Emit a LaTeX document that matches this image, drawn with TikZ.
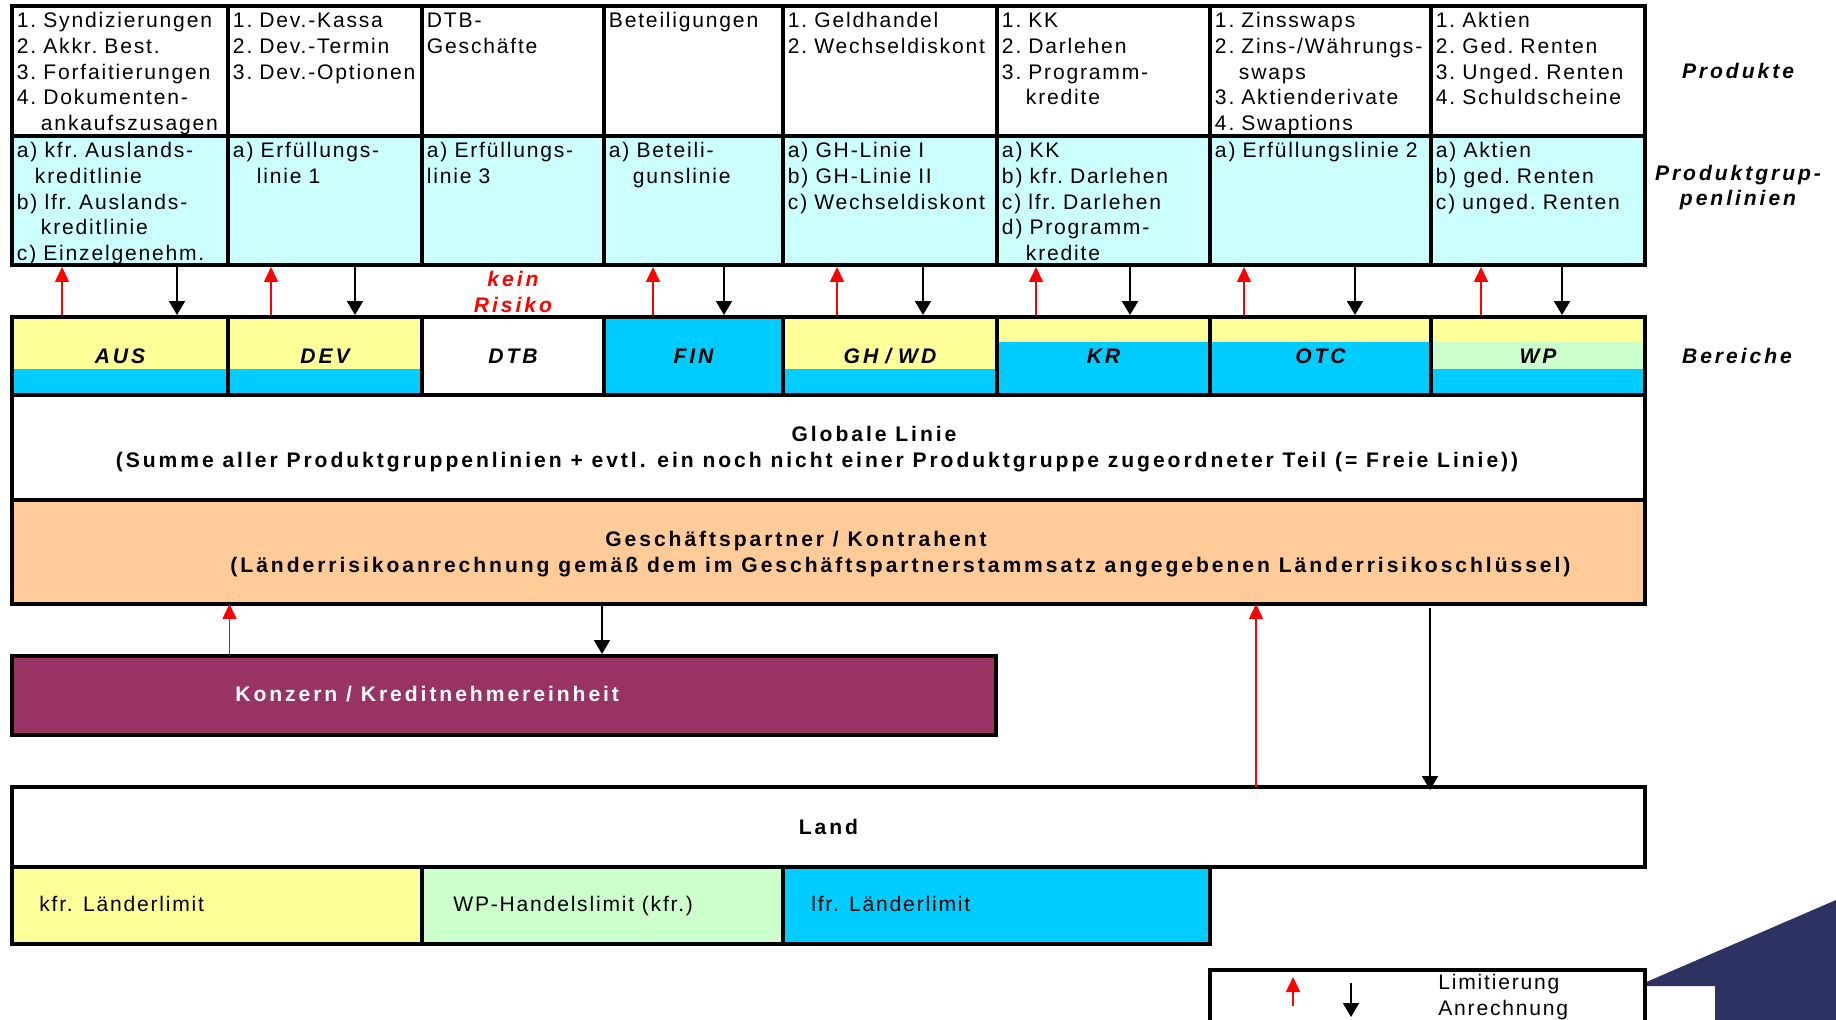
\documentclass[tikz,border=0pt]{standalone}
\usepackage{fontspec}
\setmainfont{Liberation Sans}[LetterSpace=8.5]
\newfontfamily\fettschrift{Liberation Sans}[LetterSpace=14]
\usepackage{xcolor}
\usetikzlibrary{matrix,arrows.meta}

\newlength\px
\setlength\px{0.02cm}
\newcommand\ein{\hspace*{24\px}}

\definecolor{hellblau}{HTML}{CCFFFF}
\definecolor{gelb}{HTML}{FFFF99}
\definecolor{blau}{HTML}{00CCFF}
\definecolor{gruen}{HTML}{CCFFCC}
\definecolor{apricot}{HTML}{FFCC99}
\definecolor{weinrot}{HTML}{993366}
\definecolor{marine}{HTML}{2E3262}

\begin{document}
\begin{tikzpicture}[x=0.02cm, y=-0.02cm,
  txt/.style={font=\fontsize{12}{14.7}\selectfont},
  txtfett/.style={font=\fettschrift\bfseries\fontsize{12}{14.7}\selectfont},
  txtkursiv/.style={font=\fettschrift\bfseries\itshape\fontsize{12}{14.7}\selectfont},
  kasten/.style={draw, line width=4\px, inner sep=0pt, outer sep=0pt, anchor=north west},
  spalten/.style={column 1/.style={nodes={text width=206\px}},
    column 2/.style={nodes={text width=184\px}},
    column 3/.style={nodes={text width=172\px}},
    column 4/.style={nodes={text width=169\px}},
    column 5/.style={nodes={text width=204\px}},
    column 6/.style={nodes={text width=203\px}},
    column 7/.style={nodes={text width=211\px}},
    column 8/.style={nodes={text width=204\px}}},
  gelbblau/.style={fill=gelb, path picture={\fill[blau] (path picture bounding box.south west) rectangle ([yshift=26\px]path picture bounding box.south east);}},
  gelboben/.style={fill=blau, path picture={\fill[gelb] (path picture bounding box.north west) rectangle ([yshift=-25\px]path picture bounding box.north east);}},
  dreifarbig/.style={fill=blau, path picture={\fill[gelb] (path picture bounding box.north west) rectangle ([yshift=-25\px]path picture bounding box.north east);
    \fill[gruen] ([yshift=-25\px]path picture bounding box.north west) rectangle ([yshift=26\px]path picture bounding box.south east);}},
  limit/.style={red, line width=1.6\px, -{Triangle[width=0.28cm,length=0.3cm]}},
  anrechnung/.style={black, line width=2\px, -{Triangle[width=0.32cm,length=0.28cm]}}]
\useasboundingbox (0,0) rectangle (1836,1020);
\clip (0,0) rectangle (1836,1020);

% Produkte und Produktgruppenlinien
\matrix[matrix of nodes, anchor=north west, inner sep=0pt, outer sep=0pt, spalten,
  column sep=-4\px, row sep=-4\px,
  nodes={draw, line width=4\px, anchor=center, align=left, txt, inner xsep=5\px, inner ysep=0pt, outer sep=2\px, text height=21.5\px,
    execute at begin node={\hyphenpenalty=10000 \exhyphenpenalty=10000}},
  row 1/.style={nodes={text depth=108.5\px}},
  row 2/.style={nodes={text depth=107.5\px, fill=hellblau}}] (tab) at (10,4) {
 1.~Syndizierungen\newline 2.~Akkr.~Best.\newline 3.~Forfaitierungen\newline 4.~Dokumenten-\newline\ein ankaufszusagen
 & 1.~Dev.-Kassa\newline 2.~Dev.-Termin\newline 3.~Dev.-Optionen
 & DTB-\newline Geschäfte
 & Beteiligungen
 & 1.~Geldhandel\newline 2.~Wechseldiskont
 & 1.~KK\newline 2.~Darlehen\newline 3.~Programm-\newline\ein kredite
 & 1.~Zinsswaps\newline 2.~Zins-/Währungs-\newline\ein swaps\newline 3.~Aktienderivate\newline 4.~Swaptions
 & 1.~Aktien\newline 2.~Ged.~Renten\newline 3.~Unged.~Renten\newline 4.~Schuldscheine \\
 a)~kfr.~Auslands-\newline\hspace*{18\px}kreditlinie\newline b)~lfr.~Auslands-\newline\ein kreditlinie\newline c)~Einzelgenehm.
 & a)~Erfüllungs-\newline\ein linie~1
 & a)~Erfüllungs-\newline linie~3
 & a)~Beteili-\newline\ein gunslinie
 & a)~GH-Linie~I\newline b)~GH-Linie~II\newline c)~Wechseldiskont
 & a)~KK\newline b)~kfr.~Darlehen\newline c)~lfr.~Darlehen\newline d)~Programm-\newline\ein kredite
 & a)~Erfüllungslinie~2
 & a)~Aktien\newline b)~ged.~Renten\newline c)~unged.~Renten \\
};

% Bereiche
\matrix[matrix of nodes, anchor=north west, inner sep=0pt, outer sep=0pt, spalten,
  column sep=-4\px,
  nodes={draw, line width=4\px, anchor=center, align=center, txtkursiv, inner xsep=5\px, inner ysep=0pt, outer sep=2\px,
    minimum height=78\px, text height=8.5pt, text depth=0pt}] (ber) at (10,315) {
 |[gelbblau]| AUS & |[gelbblau]| DEV & DTB & |[fill=blau]| FIN & |[gelbblau]| GH / WD
 & |[gelboben]| KR & |[gelboben]| OTC & |[dreifarbig]| WP \\
};

\foreach \spalte/\rx/\bx in {1/52/167, 2/45/129, 4/51/122, 5/56/142, 6/41/135, 7/36/147, 8/52/133}{
  \draw[limit] ([xshift=\rx\px]ber-1-\spalte.north west) -- ([xshift=\rx\px]tab-2-\spalte.south west);
  \draw[anrechnung] ([xshift=\bx\px]tab-2-\spalte.south west) -- ([xshift=\bx\px]ber-1-\spalte.north west);
}
\node[txtkursiv, text=red, align=center] (keinrisiko) at ([yshift=-25\px]tab-2-3.south) {kein\\Risiko};

\node[txtkursiv] (produkte) at ([xshift=91\px]tab-1-8.east) {Produkte};
\node[txtkursiv, align=center] (pglinien) at ([xshift=91\px, yshift=13\px]tab-2-8.east) {Produktgrup-\\penlinien};
\node[txtkursiv] (bereiche) at ([xshift=90\px]ber-1-8.east) {Bereiche};

% Globale Linie, Geschaeftspartner
\node[kasten, minimum width=1633\px, minimum height=105\px] (global) at (12,395) {};
\node[txtfett, align=center] (globaltext) at ([xshift=-11.5\px, yshift=-2\px]global.center)
  {\mbox{\hspace{114\px}Globale Linie}\\(Summe aller Produktgruppenlinien + evtl. ein noch nicht einer Produktgruppe zugeordneter Teil (= Freie Linie))};
\node[kasten, fill=apricot, minimum width=1633\px, minimum height=104\px] (partner) at (global.south west) {};
\node[txtfett, align=center] (partnertext) at ([xshift=72\px, yshift=-2\px]partner.center)
  {\mbox{Geschäftspartner / Kontrahent\hspace{209\px}}\\(Länderrisikoanrechnung gemäß dem im Geschäftspartnerstammsatz angegebenen Länderrisikoschlüssel)};

% Konzern
\node[kasten, fill=weinrot, minimum width=984\px, minimum height=79\px] (konzern) at (12,656) {};
\node[txtfett, text=white, anchor=base west, inner sep=0pt] (konzerntext) at ([xshift=223\px, yshift=-6\px]konzern.west) {Konzern / Kreditnehmereinheit};
\draw[limit] ([xshift=217.5\px]konzern.north west) -- ([xshift=217.5\px]konzern.north west |- partner.south);
\draw[anrechnung, shorten >=2\px] ([xshift=590\px]konzern.north west |- partner.south) -- ([xshift=590\px]konzern.north west);

% Land
\node[kasten, txtfett, minimum width=1633\px, minimum height=80\px] (land) at (12,787) {Land};
\node[kasten, fill=gelb, minimum width=410\px, minimum height=77\px] (kfr) at (land.south west) {};
\node[kasten, fill=gruen, minimum width=361\px, minimum height=77\px] (wphandel) at (kfr.north east) {};
\node[kasten, fill=blau, minimum width=427\px, minimum height=77\px] (lfr) at (wphandel.north east) {};
\node[txt, anchor=base west, inner sep=0pt] (kfrtext) at ([xshift=27\px, yshift=-6\px]kfr.west) {kfr. Länderlimit};
\node[txt, anchor=base west, inner sep=0pt] (wptext) at ([xshift=31\px, yshift=-6\px]wphandel.west) {WP-Handelslimit (kfr.)};
\node[txt, anchor=base west, inner sep=0pt] (lfrtext) at ([xshift=28\px, yshift=-6\px]lfr.west) {lfr. Länderlimit};
\draw[limit] ([xshift=1244\px]land.north west) -- ([xshift=1244\px]land.north west |- partner.south);
\draw[anrechnung, shorten <=4\px] ([xshift=1418\px]land.north west |- partner.south) -- ([xshift=1418\px, yshift=-3\px]land.north west);

% Legende
\fill[marine] (1644,983) -- (1836,900) -- (1836,1020) -- (1715,1020) -- (1715,986) -- (1644,986) -- cycle;
\node[kasten, fill=white, minimum width=435\px, minimum height=80\px] (legende) at (1210,970) {};
\coordinate (lim-a) at ([xshift=83\px, yshift=-36\px]legende.north west);
\coordinate (lim-b) at ([xshift=83\px, yshift=-7\px]legende.north west);
\coordinate (anr-a) at ([xshift=141\px, yshift=-13\px]legende.north west);
\coordinate (anr-b) at ([xshift=141\px, yshift=-47\px]legende.north west);
\draw[limit] (lim-a) -- (lim-b);
\draw[anrechnung] (anr-a) -- (anr-b);
\node[txt, align=left, anchor=base west, inner sep=0pt] (legtext) at ([xshift=228\px, yshift=-45\px]legende.north west) {Limitierung\\Anrechnung};
\end{tikzpicture}
\end{document}
